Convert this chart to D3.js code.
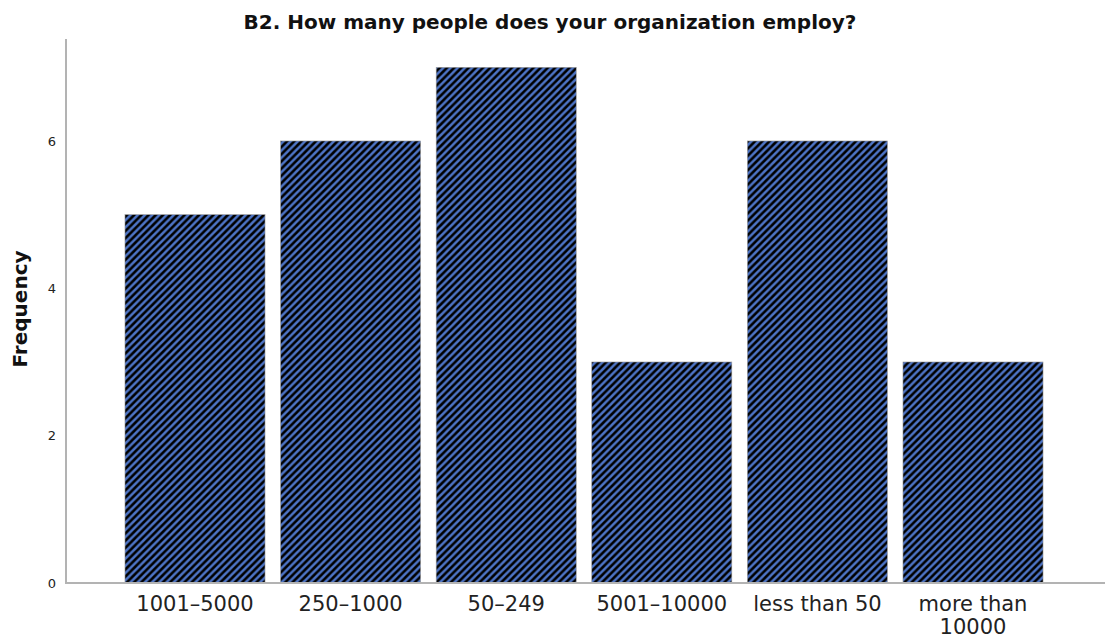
<!DOCTYPE html>
<html><head><meta charset="utf-8">
<script src="https://cdn.jsdelivr.net/npm/d3@7"></script>
<style>body{margin:0;background:#fff}svg{display:block}</style>
</head><body>
<script>
const categories = ["1001-5000","250-1000","50-249","5001-10000","less than 50","more than 10000"];
const frequencies = [5, 6, 7, 3, 6, 3];
const yTicks = [0, 2, 4, 6];
const title = "B2. How many people does your organization employ?";
const yLabel = "Frequency";

const W = 1108, H = 641;
const svg = d3.select("body").append("svg").attr("width", W).attr("height", H);

const defs = svg.append("defs");
const p = 7.2;
const pat = defs.append("pattern").attr("id","hatch").attr("patternUnits","userSpaceOnUse")
  .attr("width", p).attr("height", p);
pat.append("rect").attr("width", p).attr("height", p).attr("fill", "#000");
pat.append("path").attr("d", `M${-p/2},${p/2} L${p/2},${-p/2} M0,${p} L${p},0 M${p/2},${p*1.5} L${p*1.5},${p/2}`)
  .attr("stroke", "#4d74c6").attr("stroke-width", 2.5);

const x = d3.scaleBand().domain(categories).range([117.2, 1050.8]).paddingInner(0.1).paddingOuter(0.05);
const y = d3.scaleLinear().domain([0, 7]).range([583, 67.3]);

// bars
svg.append("g").selectAll("rect").data(categories).join("rect")
  .attr("x", d => x(d)).attr("width", x.bandwidth())
  .attr("y", (d,i) => y(frequencies[i])).attr("height", (d,i) => y(0) - y(frequencies[i]))
  .attr("fill", "url(#hatch)").attr("stroke", "#9a9a9a").attr("stroke-width", 0.6);

// y axis
const yAxis = svg.append("g").attr("transform", "translate(66,0)")
  .call(d3.axisLeft(y).tickValues(yTicks).tickSize(0).tickPadding(10).tickFormat(d3.format("d")));
yAxis.select(".domain").remove();
yAxis.selectAll("text").attr("font-family", "'DejaVu Sans', sans-serif").attr("font-size", 13).attr("fill", "#222");
svg.append("line").attr("x1", 66).attr("x2", 66).attr("y1", 39).attr("y2", 584)
  .attr("stroke", "#b3b3b3").attr("stroke-width", 2);

// x axis
const xAxis = svg.append("g").attr("transform", "translate(0,583)")
  .call(d3.axisBottom(x).tickSize(0).tickPadding(13).tickFormat(d => d.replace(/-/g, "\u2013")));
xAxis.select(".domain").remove();
xAxis.selectAll("text").attr("font-family", "'DejaVu Sans', sans-serif").attr("font-size", 21).attr("fill", "#222")
  .each(function(d){
    const t = d3.select(this);
    const label = d.replace(/-/g, "\u2013");
    if (label.length > 13) {
      const words = label.split(" ");
      const l1 = words.slice(0, 2).join(" "), l2 = words.slice(2).join(" ");
      t.text(null);
      t.append("tspan").attr("x", 0).attr("dy", "0.71em").text(l1);
      t.append("tspan").attr("x", 0).attr("dy", "1.1em").text(l2);
      t.attr("dy", null);
    }
  });
svg.append("line").attr("x1", 65).attr("x2", 1105).attr("y1", 583).attr("y2", 583)
  .attr("stroke", "#b3b3b3").attr("stroke-width", 2);

// title
svg.append("text").attr("x", 550).attr("y", 29).attr("text-anchor", "middle")
  .attr("font-family", "'DejaVu Sans', sans-serif").attr("font-weight", "bold").attr("font-size", 20)
  .attr("fill", "#111").text(title);

// y label
svg.append("text").attr("transform", "translate(27,309) rotate(-90)").attr("text-anchor", "middle")
  .attr("font-family", "'DejaVu Sans', sans-serif").attr("font-weight", "bold").attr("font-size", 20)
  .attr("fill", "#111").text(yLabel);
</script>
</body></html>
